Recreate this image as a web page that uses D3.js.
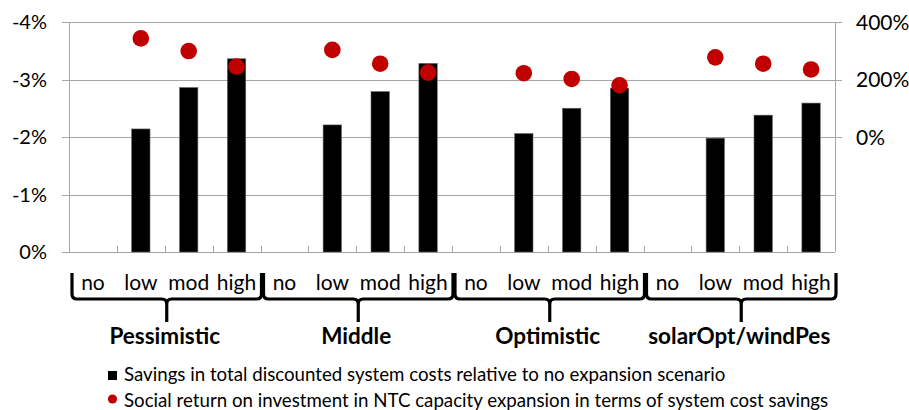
<!DOCTYPE html>
<html>
<head>
<meta charset="utf-8">
<script src="https://cdn.jsdelivr.net/npm/d3@7"></script>
<style>
  html, body { margin: 0; padding: 0; background: #fff; }
  svg { display: block; font-family: Lato, "Open Sans", sans-serif; }
</style>
</head>
<body>
<svg id="chart" width="909" height="410"></svg>
<script>
// Scenario groups and NTC expansion levels
const groups = ["Pessimistic", "Middle", "Optimistic", "solarOpt/windPes"];
const levels = ["no", "low", "mod", "high"];

// Change in total discounted system costs vs. no expansion (%), per group: no, low, mod, high
const savings = [
  [null, -2.14, -2.86, -3.36],
  [null, -2.21, -2.79, -3.28],
  [null, -2.06, -2.50, -2.85],
  [null, -1.98, -2.38, -2.59]
];

// Social return on investment in NTC capacity expansion (%)
const roi = [
  [null, 343, 299, 245],
  [null, 303, 255, 224],
  [null, 222, 202, 180],
  [null, 277, 255, 235]
];

const leftTicks = [0, -1, -2, -3, -4];
const rightTicks = [0, 200, 400];

const legendLabels = [
  "Savings in total discounted system costs relative to no expansion scenario",
  "Social return on investment in NTC capacity expansion in terms of system cost savings"
];

const barColor = "#000000";
const dotColor = "#C00000";
const gridColor = "#a6a6a6";

const margin = { left: 69, right: 74, top: 22, bottom: 158 };
const W = 909, H = 410;
const x0 = margin.left, x1 = W - margin.right;
const yTop = margin.top, yBot = H - margin.bottom;

const svg = d3.select("#chart");

// Flattened category keys: one slot per group/level pair
const cats = [];
groups.forEach((g, gi) => levels.forEach((l, li) => cats.push({ key: gi + "|" + li, g: gi, l: li })));

const x = d3.scaleBand()
  .domain(cats.map(d => d.key))
  .range([x0, x1])
  .paddingInner(0.616)
  .paddingOuter(0.308);
const step = x.step();

const yL = d3.scaleLinear().domain([0, -4]).range([yBot, yTop]);
const yR = d3.scaleLinear().domain([-400, 400]).range([yBot, yTop]);

// Horizontal gridlines with outward left ticks
const gGrid = svg.append("g");
gGrid.selectAll("line").data(leftTicks).join("line")
  .attr("x1", x0 - 7).attr("x2", x1)
  .attr("y1", d => Math.round(yL(d)) + 0.5).attr("y2", d => Math.round(yL(d)) + 0.5)
  .attr("stroke", gridColor).attr("stroke-width", 1);

// Right-axis outward ticks
svg.append("g").selectAll("line").data(rightTicks).join("line")
  .attr("x1", x1).attr("x2", x1 + 7)
  .attr("y1", d => Math.round(yR(d)) + 0.5).attr("y2", d => Math.round(yR(d)) + 0.5)
  .attr("stroke", gridColor);

// Axis lines
svg.append("line").attr("x1", x0 + 0.5).attr("x2", x0 + 0.5).attr("y1", yTop).attr("y2", yBot)
  .attr("stroke", gridColor);
svg.append("line").attr("x1", x1 + 0.5).attr("x2", x1 + 0.5).attr("y1", yTop).attr("y2", yBot)
  .attr("stroke", gridColor);

// Category boundary ticks pointing up from the baseline
const bounds = d3.range(1, cats.length).map(i => x0 + i * step);
svg.append("g").selectAll("line").data(bounds).join("line")
  .attr("x1", d => Math.round(d) + 0.5).attr("x2", d => Math.round(d) + 0.5)
  .attr("y1", yBot - 6).attr("y2", yBot)
  .attr("stroke", gridColor);

// Left axis labels (plain hyphen for the minus sign)
svg.append("g").selectAll("text").data(leftTicks).join("text")
  .attr("x", 47).attr("y", d => yL(d))
  .attr("dy", "0.36em")
  .attr("text-anchor", "end")
  .attr("font-size", 20).attr("fill", "#000")
  .text(d => (d < 0 ? "-" : "") + Math.abs(d) + "%");

// Right axis labels
svg.append("g").selectAll("text").data(rightTicks).join("text")
  .attr("x", 856).attr("y", d => yR(d))
  .attr("dy", "0.36em")
  .attr("text-anchor", "start")
  .attr("font-size", 21).attr("fill", "#000")
  .text(d => d + "%");

// Bars
const barData = cats.map(c => ({ ...c, v: savings[c.g][c.l] })).filter(d => d.v != null);
svg.append("g").selectAll("rect").data(barData).join("rect")
  .attr("x", d => x(d.key))
  .attr("width", x.bandwidth())
  .attr("y", d => yL(d.v))
  .attr("height", d => yL(0) - yL(d.v))
  .attr("fill", barColor)
  .attr("stroke", "#666").attr("stroke-width", 0.6);

// ROI markers
const dotData = cats.map(c => ({ ...c, v: roi[c.g][c.l] })).filter(d => d.v != null);
svg.append("g").selectAll("circle").data(dotData).join("circle")
  .attr("cx", d => x(d.key) + x.bandwidth() / 2)
  .attr("cy", d => yR(d.v))
  .attr("r", 8.3)
  .attr("fill", dotColor);

// Level labels under each slot
svg.append("g").selectAll("text").data(cats).join("text")
  .attr("x", d => x(d.key) + x.bandwidth() / 2)
  .attr("y", 290)
  .attr("text-anchor", "middle")
  .attr("font-size", 21).attr("fill", "#000")
  .text(d => levels[d.l]);

// Curly braces under each scenario group
const groupW = step * levels.length;
const braceTop = 273, braceMid = 299, braceTip = 322;
const braces = svg.append("g");
groups.forEach((g, gi) => {
  const a = x0 + gi * groupW + 3;
  const b = x0 + (gi + 1) * groupW + 1;
  const c = x0 + (gi + 0.5) * groupW + 2;
  const r = 5;
  const p = d3.path();
  p.moveTo(a, braceTop);
  p.lineTo(a, braceMid - r);
  p.quadraticCurveTo(a, braceMid, a + r, braceMid);
  p.lineTo(c - r, braceMid);
  p.quadraticCurveTo(c, braceMid, c, braceMid + r);
  p.lineTo(c, braceTip);
  p.moveTo(c, braceMid + r);
  p.quadraticCurveTo(c, braceMid, c + r, braceMid);
  p.lineTo(b - r, braceMid);
  p.quadraticCurveTo(b, braceMid, b, braceMid - r);
  p.lineTo(b, braceTop);
  braces.append("path").attr("d", p.toString())
    .attr("fill", "none").attr("stroke", "#000").attr("stroke-width", 3.2);
});

// Group labels
svg.append("g").selectAll("text").data(groups).join("text")
  .attr("x", (d, i) => x0 + (i + 0.5) * groupW)
  .attr("y", 344)
  .attr("text-anchor", "middle")
  .attr("font-size", 22.5).attr("font-weight", "bold").attr("fill", "#000")
  .text(d => d);

// Legend
const lg = svg.append("g");
lg.append("rect").attr("x", 108).attr("y", 371).attr("width", 9).attr("height", 9).attr("fill", barColor);
lg.append("circle").attr("cx", 112.5).attr("cy", 399).attr("r", 4.6).attr("fill", dotColor);
lg.selectAll("text").data(legendLabels).join("text")
  .attr("x", 124)
  .attr("y", (d, i) => 381 + i * 26)
  .attr("font-size", 18.7).attr("fill", "#000")
  .text(d => d);
</script>
</body>
</html>
